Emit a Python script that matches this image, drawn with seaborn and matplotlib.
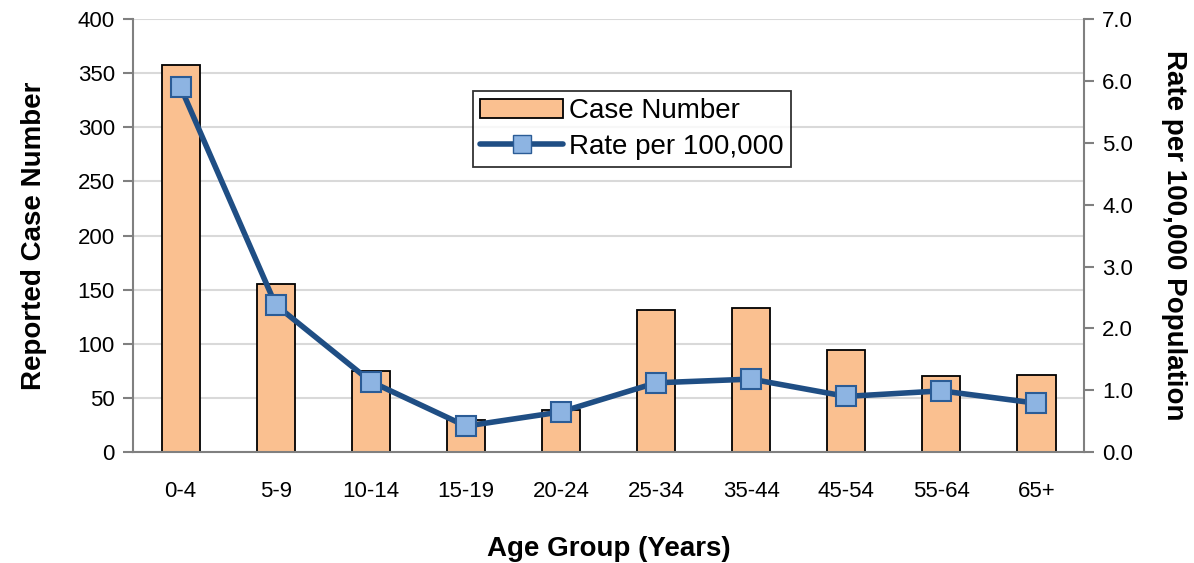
import numpy as np
import pandas as pd
import matplotlib
matplotlib.use("Agg")
import matplotlib.pyplot as plt
import seaborn as sns
from matplotlib.lines import Line2D
from matplotlib.patches import Patch

# data
age_groups = ["0-4", "5-9", "10-14", "15-19", "20-24", "25-34", "35-44", "45-54", "55-64", "65+"]
case_numbers = [358, 155, 75, 30, 39, 131, 133, 94, 70, 71]
rate_per_100k = [5.90, 2.38, 1.14, 0.42, 0.65, 1.12, 1.18, 0.90, 0.99, 0.79]

sns.set_style("white")
plt.rcParams["font.family"] = ["Liberation Sans", "DejaVu Sans"]
plt.rcParams["text.color"] = "black"
plt.rcParams["axes.labelcolor"] = "black"
plt.rcParams["xtick.color"] = "#808080"
plt.rcParams["ytick.color"] = "#808080"
plt.rcParams["xtick.labelcolor"] = "black"
plt.rcParams["ytick.labelcolor"] = "black"

bar_color = "#FAC090"
line_color = "#1F4E84"
marker_face = "#8DB4E2"

df = pd.DataFrame({"age": age_groups, "cases": case_numbers, "rate": rate_per_100k})
df["pos"] = np.arange(len(df))

fig = plt.figure(figsize=(11.94, 5.63), dpi=100)
ax = fig.add_axes([0.1114, 0.197, 0.7965, 0.769])

sns.barplot(data=df, x="age", y="cases", color=bar_color, width=0.4,
            edgecolor="black", linewidth=1.3, saturation=1, ax=ax, zorder=2)
ax.set_ylim(0, 400)
ax.set_yticks(range(0, 401, 50))
ax.set_xlim(-0.5, len(df) - 0.5)
ax.yaxis.grid(True, color="#D9D9D9", linewidth=1.5, zorder=0)
ax.set_axisbelow(True)

# x ticks sit between categories, labels centred under bars
ax.set_xticks(np.arange(len(df)))
ax.set_xticklabels(age_groups, fontsize=16)
ax.set_xticks(np.arange(len(df) + 1) - 0.5, minor=True)
ax.tick_params(axis="x", which="major", length=0, pad=21)
ax.tick_params(axis="x", which="minor", length=8, width=1.5, direction="out")
ax.tick_params(axis="y", length=7, width=1.5, direction="out", labelsize=16, pad=6)

for side in ["top", "right"]:
    ax.spines[side].set_visible(False)
for side in ["left", "bottom"]:
    ax.spines[side].set_color("#808080")
    ax.spines[side].set_linewidth(1.5)

ax.set_xlabel("Age Group (Years)", fontsize=20, fontweight="bold", labelpad=24)
ax.set_ylabel("Reported Case Number", fontsize=20, fontweight="bold", labelpad=22)

# secondary axis for the rate
ax2 = ax.twinx()
sns.lineplot(data=df, x="pos", y="rate", color=line_color, linewidth=4, marker="s",
             markersize=15, markerfacecolor=marker_face, markeredgecolor="#2B5C96",
             markeredgewidth=1.5, ax=ax2, zorder=3)
ax2.set_ylim(0, 7)
ax2.set_yticks(np.arange(0, 7.01, 1.0))
ax2.set_yticklabels([f"{v:.1f}" for v in np.arange(0, 7.01, 1.0)], fontsize=16)
ax2.set_xlim(-0.5, len(df) - 0.5)
ax2.tick_params(axis="y", length=7, width=1.5, direction="out", pad=6)
for side in ["top", "left", "bottom"]:
    ax2.spines[side].set_visible(False)
ax2.spines["right"].set_color("#808080")
ax2.spines["right"].set_linewidth(1.5)
ax2.set_ylabel("Rate per 100,000 Population", fontsize=20, fontweight="bold",
               rotation=-90, labelpad=39)
ax2.set_xlabel("")

handles = [
    Patch(facecolor=bar_color, edgecolor="black", linewidth=1.3, label="Case Number"),
    Line2D([0], [0], color=line_color, linewidth=4, marker="s", markersize=13,
           markerfacecolor=marker_face, markeredgecolor="#2B5C96", label="Rate per 100,000"),
]
leg = ax2.legend(handles=handles, loc="upper left", bbox_to_anchor=(0.343, 0.866),
                 fontsize=20, frameon=True, fancybox=False, edgecolor="black",
                 borderpad=0.25, labelspacing=0.35, handlelength=3.0, handletextpad=0.2)
leg.get_frame().set_linewidth(1.3)

fig.savefig("out.png", dpi=100)
